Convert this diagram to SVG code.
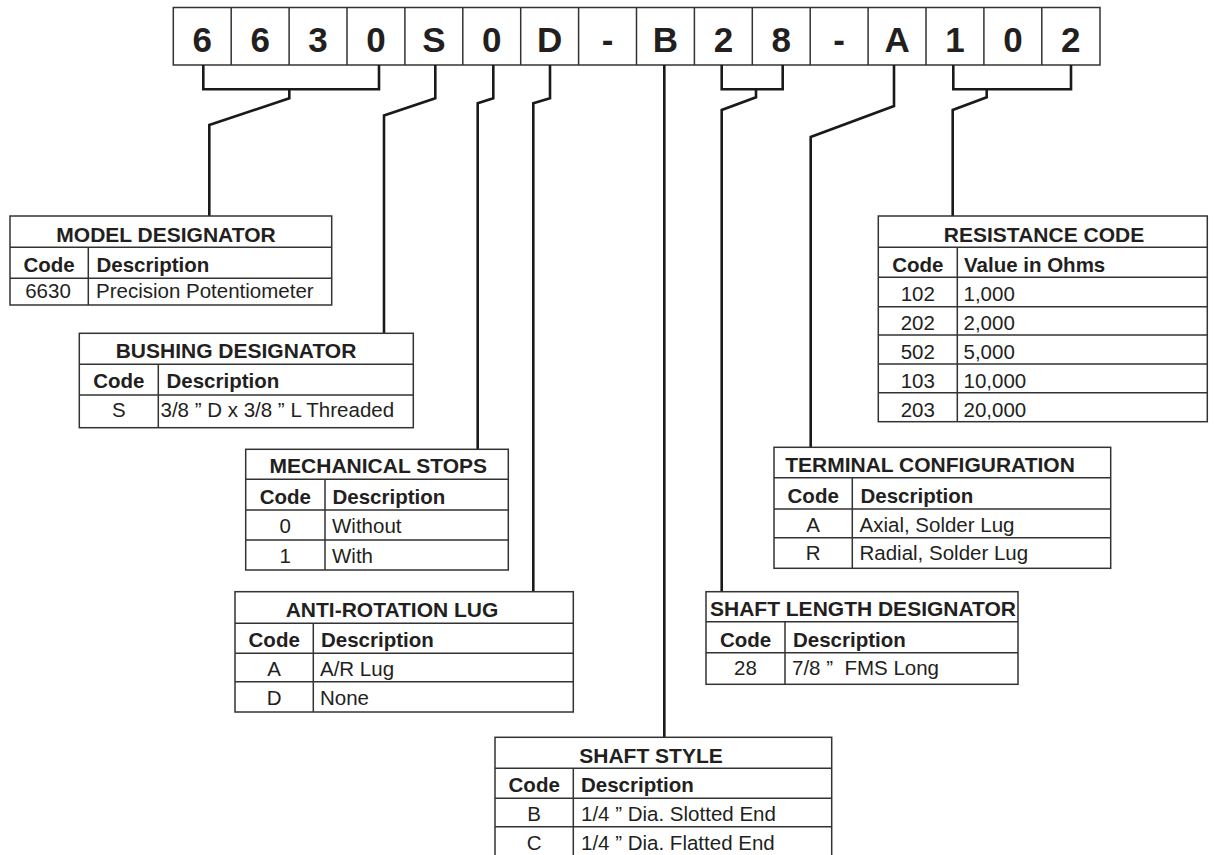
<svg xmlns="http://www.w3.org/2000/svg" width="1215" height="855" viewBox="0 0 1215 855">
<style>
text{font-family:"Liberation Sans",Arial,Helvetica,sans-serif;fill:#231f20}
.big{font-size:35px;font-weight:bold;text-anchor:middle}
.h{font-size:21px;font-weight:bold;text-anchor:middle}
.b{font-size:20.5px;font-weight:bold}
.t{font-size:20.5px}
.c{text-anchor:middle}
.box{fill:#fff;stroke:#333;stroke-width:1.5}
.grid{stroke:#333;stroke-width:1.5;fill:none}
.conn{stroke:#1a1a1a;stroke-width:2.6;fill:none;stroke-linejoin:miter}
</style>
<rect width="1215" height="855" fill="#fff"/>
<g id="code-boxes">
<rect class="box" x="173.3" y="7.5" width="926.7" height="57.5"/>
<path class="grid" d="M231.2,7.5V65M289.1,7.5V65M347,7.5V65M404.9,7.5V65M462.8,7.5V65M520.7,7.5V65M578.6,7.5V65M636.5,7.5V65M694.4,7.5V65M752.3,7.5V65M810.2,7.5V65M868.1,7.5V65M926,7.5V65M983.9,7.5V65M1041.8,7.5V65"/>
<text class="big" x="202.3" y="51.7">6</text>
<text class="big" x="260.2" y="51.7">6</text>
<text class="big" x="318.1" y="51.7">3</text>
<text class="big" x="376" y="51.7">0</text>
<text class="big" x="433.9" y="51.7">S</text>
<text class="big" x="491.8" y="51.7">0</text>
<text class="big" x="549.7" y="51.7">D</text>
<text class="big" x="607.6" y="51.7">-</text>
<text class="big" x="665.5" y="51.7">B</text>
<text class="big" x="723.4" y="51.7">2</text>
<text class="big" x="781.3" y="51.7">8</text>
<text class="big" x="839.2" y="51.7">-</text>
<text class="big" x="897.1" y="51.7">A</text>
<text class="big" x="955" y="51.7">1</text>
<text class="big" x="1012.9" y="51.7">0</text>
<text class="big" x="1070.8" y="51.7">2</text>
</g>
<g id="connectors">
<path class="conn" d="M203.3,65V89.3H379V65"/>
<path class="conn" d="M289.3,89.3V98.3L209.3,125V216"/>
<path class="conn" d="M435.3,65V98.3L384,115.5V333.3"/>
<path class="conn" d="M493.3,65V98.3L477.7,103.3V449.3"/>
<path class="conn" d="M550,65V98.3L533.3,103.3V591.7"/>
<path class="conn" d="M664.3,65V737.3"/>
<path class="conn" d="M721.7,65V89.3H782.7V65"/>
<path class="conn" d="M756,89.3V97.3L721.7,110V591.7"/>
<path class="conn" d="M894,65V106L810.7,137V447.3"/>
<path class="conn" d="M953.3,65V89.3H1071V65"/>
<path class="conn" d="M986.7,89.3V97.3L952.7,110V216"/>
</g>
<g id="model-designator">
<rect class="box" x="10" y="216" width="321.7" height="89"/>
<path class="grid" d="M10,247.3H331.7M10,278.3H331.7M88.3,247.3V305"/>
<text class="h" x="166" y="241.7">MODEL DESIGNATOR</text>
<text class="b c" x="49" y="271.7">Code</text>
<text class="b" x="96.5" y="271.7">Description</text>
<text class="t c" x="48" y="298">6630</text>
<text class="t" x="96" y="298">Precision Potentiometer</text>
</g>
<g id="bushing-designator">
<rect class="box" x="79.3" y="333.3" width="334" height="94.4"/>
<path class="grid" d="M79.3,364.3H413.3M79.3,395H413.3M158.3,364.3V427.7"/>
<text class="h" x="236" y="358.3">BUSHING DESIGNATOR</text>
<text class="b c" x="118.8" y="387.7">Code</text>
<text class="b" x="166.5" y="387.7">Description</text>
<text class="t c" x="118.8" y="416.7">S</text>
<text class="t" x="160.5" y="416.7">3/8 ” D x 3/8 ” L Threaded</text>
</g>
<g id="mechanical-stops">
<rect class="box" x="245.7" y="449.3" width="262.6" height="120.7"/>
<path class="grid" d="M245.7,479.3H508.3M245.7,510H508.3M245.7,540H508.3M325,479.3V570"/>
<text class="h" x="378.3" y="473.3">MECHANICAL STOPS</text>
<text class="b c" x="285.3" y="504">Code</text>
<text class="b" x="332.5" y="504">Description</text>
<text class="t c" x="285.3" y="532.7">0</text>
<text class="t" x="332" y="532.7">Without</text>
<text class="t c" x="285.3" y="562.7">1</text>
<text class="t" x="332" y="562.7">With</text>
</g>
<g id="anti-rotation-lug">
<rect class="box" x="235" y="591.7" width="338.3" height="120.3"/>
<path class="grid" d="M235,623.3H573.3M235,653.3H573.3M235,681.7H573.3M313.3,623.3V712"/>
<text class="h" x="392" y="616.7">ANTI-ROTATION LUG</text>
<text class="b c" x="274.2" y="646.7">Code</text>
<text class="b" x="321" y="646.7">Description</text>
<text class="t c" x="274.2" y="675.5">A</text>
<text class="t" x="320" y="675.5">A/R Lug</text>
<text class="t c" x="274.2" y="705">D</text>
<text class="t" x="320" y="705">None</text>
</g>
<g id="shaft-style">
<rect class="box" x="495" y="737.3" width="336.7" height="130"/>
<path class="grid" d="M495,768.3H831.7M495,798.3H831.7M495,826.7H831.7M573.3,768.3V860"/>
<text class="h" x="651" y="763.3">SHAFT STYLE</text>
<text class="b c" x="534.2" y="791.7">Code</text>
<text class="b" x="581" y="791.7">Description</text>
<text class="t c" x="534.2" y="820.5">B</text>
<text class="t" x="581" y="820.5">1/4 ” Dia. Slotted End</text>
<text class="t c" x="534.2" y="849.5">C</text>
<text class="t" x="581" y="849.5">1/4 ” Dia. Flatted End</text>
</g>
<g id="shaft-length-designator">
<rect class="box" x="706" y="591.7" width="312" height="92.6"/>
<path class="grid" d="M706,621.7H1018M706,652.7H1018M785,621.7V684.3"/>
<text class="h" x="863" y="616">SHAFT LENGTH DESIGNATOR</text>
<text class="b c" x="745.5" y="646.7">Code</text>
<text class="b" x="793" y="646.7">Description</text>
<text class="t c" x="745.5" y="675">28</text>
<text class="t" x="792" y="675">7/8 ”&#160; FMS Long</text>
</g>
<g id="terminal-configuration">
<rect class="box" x="774" y="447.3" width="336.7" height="121"/>
<path class="grid" d="M774,477.7H1110.7M774,509H1110.7M774,537.7H1110.7M852.3,477.7V568.3"/>
<text class="h" x="930" y="472.3">TERMINAL CONFIGURATION</text>
<text class="b c" x="813.2" y="502.7">Code</text>
<text class="b" x="860.5" y="502.7">Description</text>
<text class="t c" x="813.2" y="531.7">A</text>
<text class="t" x="859.5" y="531.7">Axial, Solder Lug</text>
<text class="t c" x="813.2" y="560">R</text>
<text class="t" x="859.5" y="560">Radial, Solder Lug</text>
</g>
<g id="resistance-code">
<rect class="box" x="878.3" y="216" width="329" height="205.7"/>
<path class="grid" d="M878.3,247.3H1207.3M878.3,277.3H1207.3M878.3,306.7H1207.3M878.3,335H1207.3M878.3,364H1207.3M878.3,392.7H1207.3M957.3,247.3V421.7"/>
<text class="h" x="1044" y="242">RESISTANCE CODE</text>
<text class="b c" x="917.8" y="271.7">Code</text>
<text class="b" x="964" y="271.7">Value in Ohms</text>
<text class="t c" x="917.8" y="301">102</text>
<text class="t" x="963.5" y="301">1,000</text>
<text class="t c" x="917.8" y="330">202</text>
<text class="t" x="963.5" y="330">2,000</text>
<text class="t c" x="917.8" y="359.3">502</text>
<text class="t" x="963.5" y="359.3">5,000</text>
<text class="t c" x="917.8" y="388.3">103</text>
<text class="t" x="963.5" y="388.3">10,000</text>
<text class="t c" x="917.8" y="416.7">203</text>
<text class="t" x="963.5" y="416.7">20,000</text>
</g>
</svg>
